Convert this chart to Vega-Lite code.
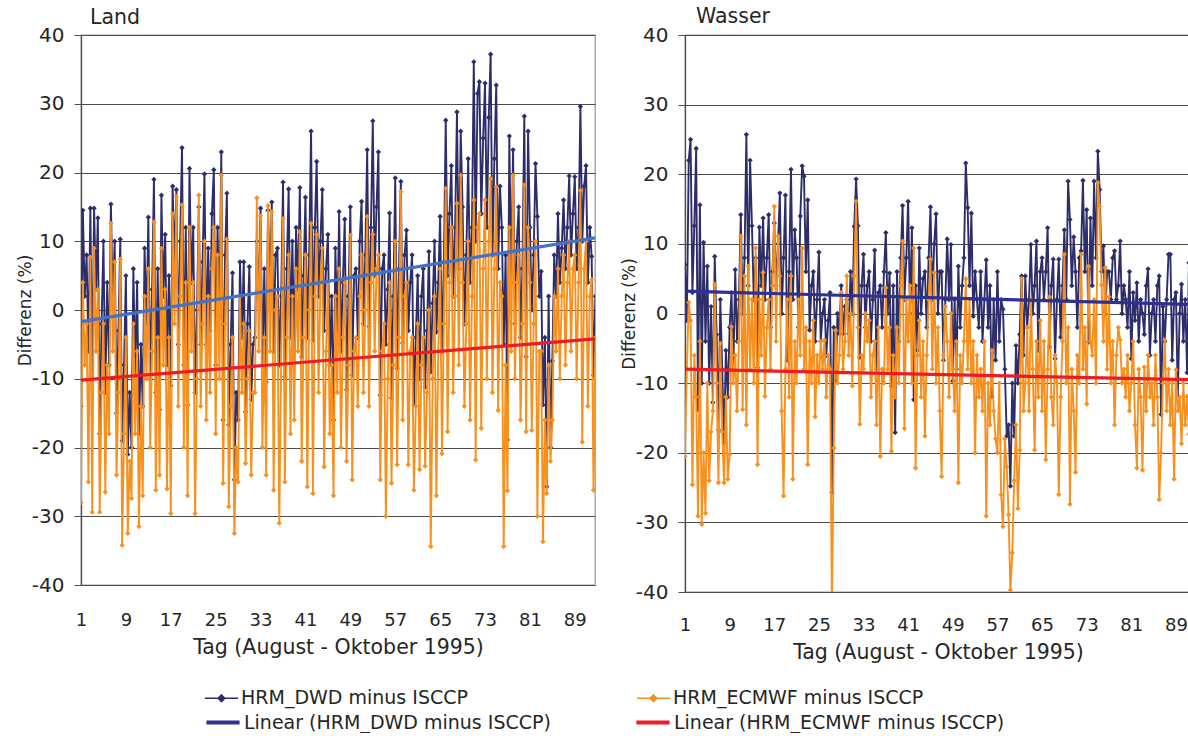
{
"$schema": "https://vega.github.io/schema/vega-lite/v6.json",
"background": "white",
"padding": {"left": 15, "top": 5, "right": 0, "bottom": 0},
"spacing": 23,
"config": {
  "font": "DejaVu Sans",
  "view": {"stroke": "#A39B9B", "strokeWidth": 1.3},
  "axis": {"labelColor": "#262626", "titleColor": "#262626", "titleFontWeight": "normal", "labelFont": "DejaVu Sans", "titleFont": "DejaVu Sans"},
  "axisX": {"ticks": false, "grid": false, "domain": false, "labelFontSize": 18, "labelPadding": 26, "titleFontSize": 20.5, "titlePadding": 8, "labelFlush": false},
  "axisY": {"grid": true, "gridColor": "#4D4D4D", "gridWidth": 1.1, "tickSize": 7, "tickColor": "#4D4D4D", "domainColor": "#4D4D4D", "domainWidth": 1.3, "labelFontSize": 20, "labelPadding": 10, "titleFontSize": 17, "titlePadding": -3},
  "title": {"font": "DejaVu Sans", "fontWeight": "normal", "fontSize": 20.5, "color": "#262626", "anchor": "start", "frame": "group"}
},
"resolve": {"scale": {"color": "shared", "stroke": "shared", "x": "independent", "y": "independent"}},
"datasets": {
"trend": [
{"p":"Land","s":"Linear (HRM_DWD minus ISCCP)","t":1,"v":-1.7},
{"p":"Land","s":"Linear (HRM_DWD minus ISCCP)","t":92.6,"v":10.5},
{"p":"Land","s":"Linear (HRM_ECMWF minus ISCCP)","t":1,"v":-10.2},
{"p":"Land","s":"Linear (HRM_ECMWF minus ISCCP)","t":92.6,"v":-4.2},
{"p":"Wasser","s":"Linear (HRM_DWD minus ISCCP)","t":1,"v":3.2},
{"p":"Wasser","s":"Linear (HRM_DWD minus ISCCP)","t":91.7,"v":1.3},
{"p":"Wasser","s":"Linear (HRM_ECMWF minus ISCCP)","t":1,"v":-8.0},
{"p":"Wasser","s":"Linear (HRM_ECMWF minus ISCCP)","t":91.7,"v":-9.5}
],
"series": [
{"t":1,"ld":-14,"le":-28,"wd":7,"we":-20.5},{"t":1.33,"ld":14.5,"le":4,"wd":-1,"we":-8},{"t":1.67,"ld":2,"le":-8,"wd":22,"we":1.6},
{"t":2,"ld":8,"le":-2,"wd":25,"we":-1},{"t":2.33,"ld":-6,"le":-25,"wd":3,"we":-24.6},{"t":2.67,"ld":14.8,"le":7.7,"wd":12.6,"we":-6},
{"t":3,"ld":-10,"le":-29.4,"wd":23.7,"we":-12},{"t":3.33,"ld":14.8,"le":9,"wd":-13.8,"we":-29.1},{"t":3.67,"ld":3,"le":-6,"wd":15.6,"we":-4},
{"t":4,"ld":13.4,"le":3,"wd":-10,"we":-30.3},{"t":4.33,"ld":-18,"le":-29.4,"wd":10.2,"we":-20},{"t":4.67,"ld":-2,"le":-12,"wd":-4,"we":-28.7},
{"t":5,"ld":10,"le":-2,"wd":6.8,"we":-10},{"t":5.33,"ld":-12,"le":-26.5,"wd":-10,"we":-24},{"t":5.67,"ld":4,"le":-8,"wd":1,"we":-17},
{"t":6,"ld":-8,"le":-18,"wd":-12.8,"we":-14},{"t":6.33,"ld":15.4,"le":12.6,"wd":8.2,"we":4.2},{"t":6.67,"ld":1,"le":-6,"wd":-3,"we":-10},
{"t":7,"ld":10,"le":7,"wd":-16.7,"we":-24.3},{"t":7.33,"ld":-15,"le":-24,"wd":2,"we":-4.3},{"t":7.67,"ld":-3,"le":-12,"wd":-8,"we":-17},
{"t":8,"ld":10.3,"le":7.4,"wd":-18.6,"we":-24.3},{"t":8.33,"ld":-19,"le":-34.2,"wd":-5.3,"we":-12},{"t":8.67,"ld":-8,"le":-18,"wd":-12,"we":-23.8},
{"t":9,"ld":5,"le":-4,"wd":-2,"we":-20.2},{"t":9.33,"ld":-21,"le":-32.5,"wd":3,"we":-1.9},{"t":9.67,"ld":-12,"le":-22,"wd":-8,"we":-10},
{"t":10,"ld":-20,"le":-27.4,"wd":6.3,"we":-6},{"t":10.33,"ld":6,"le":-2,"wd":-4,"we":-14},{"t":10.67,"ld":-9,"le":-18,"wd":2,"we":-4},
{"t":11,"ld":4,"le":-6,"wd":14.2,"we":11.1},{"t":11.33,"ld":-18,"le":-31.5,"wd":0,"we":-13.8},{"t":11.67,"ld":-5,"le":-14,"wd":8,"we":5.4},
{"t":12,"ld":-14,"le":-27,"wd":25.7,"we":-16},{"t":12.33,"ld":9,"le":2,"wd":4,"we":6.8},{"t":12.67,"ld":-2,"le":-10,"wd":22,"we":-8},
{"t":13,"ld":13.5,"le":6,"wd":12.6,"we":2},{"t":13.33,"ld":-10,"le":-20,"wd":2,"we":-10},{"t":13.67,"ld":3,"le":-6,"wd":8,"we":9.4},
{"t":14,"ld":19,"le":12.8,"wd":-7.8,"we":-21.7},{"t":14.33,"ld":-12,"le":-26.2,"wd":12.4,"we":2},{"t":14.67,"ld":6,"le":-4,"wd":4,"we":-6},
{"t":15,"ld":-14.5,"le":-24,"wd":13.7,"we":5.9},{"t":15.33,"ld":16.7,"le":9,"wd":2,"we":-11.9},{"t":15.67,"ld":2,"le":-8,"wd":8,"we":-2},
{"t":16,"ld":11,"le":3,"wd":14.2,"we":2},{"t":16.33,"ld":-8,"le":-26,"wd":-2,"we":-8},{"t":16.67,"ld":5,"le":-4,"wd":6,"we":4},
{"t":17,"ld":-11,"le":-29.6,"wd":13,"we":15.4},{"t":17.33,"ld":18,"le":14,"wd":4,"we":-4},{"t":17.67,"ld":7,"le":-2,"wd":10,"we":11.1},
{"t":18,"ld":17.5,"le":16.5,"wd":17.3,"we":5.4},{"t":18.33,"ld":-5,"le":-14,"wd":0,"we":-14},{"t":18.67,"ld":10,"le":2,"wd":8,"we":-26.2},
{"t":19,"ld":23.6,"le":15.3,"wd":17,"we":-8},{"t":19.33,"ld":-8,"le":-20,"wd":-6.7,"we":2},{"t":19.67,"ld":12,"le":4,"wd":6,"we":-12},
{"t":20,"ld":-13.8,"le":-27,"wd":20.7,"we":5.4},{"t":20.33,"ld":20.6,"le":12,"wd":2,"we":-23.8},{"t":20.67,"ld":4,"le":-6,"wd":12,"we":-4},
{"t":21,"ld":12,"le":4,"wd":8,"we":-10},{"t":21.33,"ld":-12,"le":-29.6,"wd":-2,"we":2},{"t":21.67,"ld":0,"le":-10,"wd":14,"we":-6},
{"t":22,"ld":15,"le":16.7,"wd":21.2,"we":9.4},{"t":22.33,"ld":-5,"le":-14,"wd":19.7,"we":-8},{"t":22.67,"ld":7,"le":-2,"wd":6,"we":-2},
{"t":23,"ld":19.8,"le":10,"wd":16.3,"we":-21.7},{"t":23.33,"ld":-5,"le":-16,"wd":-2.4,"we":-4},{"t":23.67,"ld":9,"le":2,"wd":4,"we":-10},
{"t":24,"ld":-3,"le":-12,"wd":6,"we":-1},{"t":24.33,"ld":14,"le":6,"wd":-4,"we":-14.8},{"t":24.67,"ld":20.4,"le":12,"wd":2,"we":-6},
{"t":25,"ld":-8,"le":-18,"wd":8.8,"we":-10},{"t":25.33,"ld":12,"le":8,"wd":-4,"we":-4},{"t":25.67,"ld":-1,"le":-10,"wd":0,"we":-8},
{"t":26,"ld":23,"le":19.6,"wd":2,"we":-3.8},{"t":26.33,"ld":-16,"le":-25.2,"wd":-6,"we":-12},{"t":26.67,"ld":8,"le":-2,"wd":-1,"we":-6},
{"t":27,"ld":17,"le":10.3,"wd":3,"we":-8},{"t":27.33,"ld":-16.7,"le":-28.6,"wd":-25.7,"we":-42},{"t":27.67,"ld":-5,"le":-14,"wd":-2,"we":-19.3},
{"t":28,"ld":5.4,"le":-4,"wd":-9.7,"we":-2.4},{"t":28.33,"ld":-24.7,"le":-32.5,"wd":0,"we":-10},{"t":28.67,"ld":-12,"le":-20,"wd":-2.9,"we":-6},
{"t":29,"ld":-16,"le":-25,"wd":4,"we":3},{"t":29.33,"ld":7,"le":2,"wd":-2.9,"we":-8},{"t":29.67,"ld":-4,"le":-12,"wd":1,"we":-4},
{"t":30,"ld":7,"le":-2,"wd":2,"we":5.4},{"t":30.33,"ld":-14.8,"le":-22.3,"wd":-2.9,"we":-6},{"t":30.67,"ld":-2,"le":-10,"wd":6,"we":0},
{"t":31,"ld":6.3,"le":-3,"wd":0,"we":-10.4},{"t":31.33,"ld":-13,"le":-24,"wd":12.5,"we":5.4},{"t":31.67,"ld":-5,"le":-12,"wd":19.3,"we":16.1},
{"t":32,"ld":-4,"le":-12,"wd":12.6,"we":-2},{"t":32.33,"ld":10,"le":16.3,"wd":-6.3,"we":-15.9},{"t":32.67,"ld":2,"le":-6,"wd":4,"we":-6},
{"t":33,"ld":14.8,"le":13.7,"wd":8.5,"we":-8},{"t":33.33,"ld":-8,"le":-20,"wd":-2,"we":0},{"t":33.67,"ld":6,"le":-4,"wd":4,"we":-4},
{"t":34,"ld":-10.5,"le":-24,"wd":6,"we":-1},{"t":34.33,"ld":14.5,"le":15.2,"wd":-4,"we":-12},{"t":34.67,"ld":3,"le":-6,"wd":2,"we":-6},
{"t":35,"ld":15.7,"le":14.3,"wd":9.1,"we":-4},{"t":35.33,"ld":-6,"le":-26.2,"wd":-8,"we":-16},{"t":35.67,"ld":8,"le":0,"wd":3,"we":-2},
{"t":36,"ld":9,"le":2,"wd":4,"we":-20.5},{"t":36.33,"ld":-8,"le":-31,"wd":-2,"we":-8},{"t":36.67,"ld":2,"le":-8,"wd":6,"we":-10},
{"t":37,"ld":18.6,"le":13.3,"wd":11.6,"we":3.7},{"t":37.33,"ld":-9.7,"le":-25,"wd":0,"we":-8},{"t":37.67,"ld":6,"le":-4,"wd":5.8,"we":-2},
{"t":38,"ld":17.6,"le":8,"wd":-10.4,"we":-19.8},{"t":38.33,"ld":-4,"le":-18,"wd":4,"we":-6},{"t":38.67,"ld":10,"le":2,"wd":-17.1,"we":-12},
{"t":39,"ld":-6,"le":-16,"wd":6,"we":-2},{"t":39.33,"ld":12,"le":6,"wd":-4,"we":-10},{"t":39.67,"ld":3,"le":-6,"wd":8,"we":4},
{"t":40,"ld":17.8,"le":11.4,"wd":15.5,"we":10.4},{"t":40.33,"ld":-6.8,"le":-22,"wd":2,"we":-16.5},{"t":40.67,"ld":5,"le":-4,"wd":8,"we":2},
{"t":41,"ld":16.4,"le":8,"wd":16.1,"we":-4},{"t":41.33,"ld":-4,"le":-25.7,"wd":0,"we":4},{"t":41.67,"ld":8,"le":0,"wd":12.3,"we":-10},
{"t":42,"ld":26,"le":12.6,"wd":-12.4,"we":9.4},{"t":42.33,"ld":-4.4,"le":-26.7,"wd":4,"we":-22.2},{"t":42.67,"ld":12,"le":2,"wd":-5.3,"we":-6},
{"t":43,"ld":21.6,"le":11,"wd":9.4,"we":-1},{"t":43.33,"ld":2,"le":-12,"wd":0,"we":-12},{"t":43.67,"ld":10,"le":4,"wd":5,"we":-4},
{"t":44,"ld":17.5,"le":9,"wd":6,"we":-17.6},{"t":44.33,"ld":-3,"le":-22.8,"wd":-2,"we":-6},{"t":44.67,"ld":6,"le":-6,"wd":8,"we":2},
{"t":45,"ld":11,"le":4,"wd":15.3,"we":7.8},{"t":45.33,"ld":-8,"le":-18,"wd":2,"we":-8},{"t":45.67,"ld":2,"le":-8,"wd":10,"we":5.9},
{"t":46,"ld":-16,"le":-27,"wd":14.3,"we":-10},{"t":46.33,"ld":9,"le":2,"wd":0,"we":-2},{"t":46.67,"ld":-3,"le":-12,"wd":6,"we":-14},
{"t":47,"ld":14.3,"le":6,"wd":6,"we":-23.4},{"t":47.33,"ld":-6,"le":-20,"wd":-6.7,"we":-6},{"t":47.67,"ld":4,"le":-4,"wd":2,"we":1},
{"t":48,"ld":13.2,"le":4,"wd":10.7,"we":-4},{"t":48.33,"ld":-11.6,"le":-22,"wd":2,"we":-12},{"t":48.67,"ld":2,"le":-8,"wd":9.9,"we":0},
{"t":49,"ld":15,"le":10.9,"wd":-9.7,"we":-8},{"t":49.33,"ld":-9.5,"le":-24.7,"wd":2,"we":-14},{"t":49.67,"ld":5,"le":-6,"wd":-8,"we":-4},
{"t":50,"ld":6,"le":-4,"wd":6.8,"we":-24.3},{"t":50.33,"ld":-4,"le":-14,"wd":-2,"we":-6},{"t":50.67,"ld":10,"le":2,"wd":4,"we":-10},
{"t":51,"ld":15.8,"le":8,"wd":8,"we":-4},{"t":51.33,"ld":-2,"le":-12,"wd":21.6,"we":5},{"t":51.67,"ld":8,"le":0,"wd":15.2,"we":-8},
{"t":52,"ld":23.3,"le":13.6,"wd":4,"we":2},{"t":52.33,"ld":-2.4,"le":-14,"wd":14.4,"we":-10},{"t":52.67,"ld":12,"le":4,"wd":-0.4,"we":-4},
{"t":53,"ld":27.5,"le":11,"wd":6,"we":-20},{"t":53.33,"ld":5,"le":-6,"wd":2,"we":-6},{"t":53.67,"ld":15,"le":6,"wd":-2,"we":-12},
{"t":54,"ld":23,"le":8,"wd":6,"we":-8},{"t":54.33,"ld":-12.4,"le":-24.7,"wd":-4,"we":-14},{"t":54.67,"ld":6,"le":-6,"wd":2,"we":-4},
{"t":55,"ld":8,"le":-2,"wd":7.7,"we":-29.1},{"t":55.33,"ld":-5,"le":-30,"wd":-2,"we":-10},{"t":55.67,"ld":3,"le":-10,"wd":4,"we":-16},
{"t":56,"ld":14.1,"le":4,"wd":-11.9,"we":-5.3},{"t":56.33,"ld":-12.8,"le":-25.2,"wd":2,"we":-14},{"t":56.67,"ld":2,"le":-8,"wd":-6.7,"we":-18},
{"t":57,"ld":19.2,"le":10,"wd":6,"we":-20},{"t":57.33,"ld":-8.5,"le":-22.5,"wd":-4,"we":-10},{"t":57.67,"ld":6,"le":-4,"wd":2,"we":-26},
{"t":58,"ld":18.7,"le":17.2,"wd":0.6,"we":-30.6},{"t":58.33,"ld":-4.8,"le":-16,"wd":-8,"we":-18},{"t":58.67,"ld":8,"le":2,"wd":-17.6,"we":-22},
{"t":59,"ld":11.6,"le":4,"wd":-16,"we":-28.9},{"t":59.33,"ld":-3,"le":-22.5,"wd":-24.8,"we":-39.7},{"t":59.67,"ld":4,"le":-6,"wd":-10,"we":-34.4},
{"t":60,"ld":8,"le":-4,"wd":-17.6,"we":-24},{"t":60.33,"ld":-13.8,"le":-26.2,"wd":-4.6,"we":-16},{"t":60.67,"ld":-4,"le":-14,"wd":-10,"we":-28},
{"t":61,"ld":5,"le":-2,"wd":-3,"we":-19.6},{"t":61.33,"ld":-10,"le":-23.2,"wd":5.4,"we":5},{"t":61.67,"ld":2,"le":-8,"wd":-6,"we":-14},
{"t":62,"ld":6,"le":-4,"wd":5.4,"we":-10},{"t":62.33,"ld":-11.2,"le":-22.7,"wd":-2,"we":-2},{"t":62.67,"ld":-3,"le":-12,"wd":2,"we":-14},
{"t":63,"ld":8.5,"le":0,"wd":9.9,"we":2},{"t":63.33,"ld":-9,"le":-34.4,"wd":0,"we":-8},{"t":63.67,"ld":1,"le":-10,"wd":4,"we":-19.6},
{"t":64,"ld":10,"le":2,"wd":10.4,"we":-4},{"t":64.33,"ld":-3.2,"le":-27,"wd":-5.3,"we":-12},{"t":64.67,"ld":4,"le":-6,"wd":6,"we":-1},
{"t":65,"ld":13.6,"le":6,"wd":8,"we":-14},{"t":65.33,"ld":-6,"le":-20.9,"wd":2,"we":-4},{"t":65.67,"ld":7,"le":-2,"wd":6,"we":-21},
{"t":66,"ld":27.6,"le":17.7,"wd":12.3,"we":-8},{"t":66.33,"ld":5,"le":-17.7,"wd":-4.8,"we":2.4},{"t":66.67,"ld":14,"le":4,"wd":4,"we":-12},
{"t":67,"ld":21,"le":12,"wd":7.8,"we":-16},{"t":67.33,"ld":2,"le":-12,"wd":-6.5,"we":-6},{"t":67.67,"ld":12,"le":2,"wd":2,"we":-10},
{"t":68,"ld":28.8,"le":15.5,"wd":7.8,"we":-26},{"t":68.33,"ld":6,"le":-8,"wd":-3.4,"we":-12},{"t":68.67,"ld":26,"le":19.6,"wd":4,"we":-4},
{"t":69,"ld":15,"le":4,"wd":12,"we":8.5},{"t":69.33,"ld":-2,"le":-14,"wd":2,"we":-10},{"t":69.67,"ld":8,"le":-2,"wd":19,"we":-2},
{"t":70,"ld":22,"le":10,"wd":13.5,"we":-27.4},{"t":70.33,"ld":4,"le":-16,"wd":4,"we":-8},{"t":70.67,"ld":12,"le":2,"wd":11,"we":-14},
{"t":71,"ld":36.1,"le":16,"wd":6,"we":-22.8},{"t":71.33,"ld":10,"le":-21.8,"wd":-2,"we":-6},{"t":71.67,"ld":31.5,"le":12,"wd":8,"we":-10},
{"t":72,"ld":33.2,"le":14,"wd":9,"we":8.5},{"t":72.33,"ld":14,"le":-17.2,"wd":19.1,"we":-8},{"t":72.67,"ld":25,"le":6,"wd":6,"we":-2},
{"t":73,"ld":33,"le":16,"wd":14.9,"we":-13},{"t":73.33,"ld":12,"le":-10,"wd":-4.1,"we":6.8},{"t":73.67,"ld":28,"le":10,"wd":13.7,"we":-4},
{"t":74,"ld":37.2,"le":19.1,"wd":4,"we":-6},{"t":74.33,"ld":8,"le":-12,"wd":19,"we":2},{"t":74.67,"ld":22,"le":6,"wd":8,"we":-10},
{"t":75,"ld":32.7,"le":17.9,"wd":23.3,"we":18.8},{"t":75.33,"ld":6,"le":-14.6,"wd":17.8,"we":15.4},{"t":75.67,"ld":18,"le":4,"wd":6,"we":4.1},
{"t":76,"ld":12,"le":2,"wd":9.7,"we":-4},{"t":76.33,"ld":-5,"le":-34.4,"wd":0,"we":6.6},{"t":76.67,"ld":8,"le":-8,"wd":6,"we":-8},
{"t":77,"ld":-18.9,"le":-26.3,"wd":6,"we":2.4},{"t":77.33,"ld":25.3,"le":12,"wd":2,"we":-10},{"t":77.67,"ld":4,"le":-6,"wd":8,"we":-4},
{"t":78,"ld":23.3,"le":19.6,"wd":9,"we":-16},{"t":78.33,"ld":-2,"le":-10,"wd":2,"we":-6},{"t":78.67,"ld":10,"le":4,"wd":4,"we":-2},
{"t":79,"ld":15,"le":8,"wd":10.4,"we":-3.8},{"t":79.33,"ld":-4,"le":-16,"wd":0,"we":-10},{"t":79.67,"ld":6,"le":-2,"wd":4,"we":-8},
{"t":80,"ld":28.2,"le":18.2,"wd":2,"we":-12},{"t":80.33,"ld":-6.8,"le":-17.7,"wd":-2,"we":-6},{"t":80.67,"ld":26,"le":12,"wd":6,"we":-14},
{"t":81,"ld":12,"le":4,"wd":-6.5,"we":-10},{"t":81.33,"ld":0,"le":-17.5,"wd":3,"we":-4},{"t":81.67,"ld":8,"le":-2,"wd":-1,"we":-16},
{"t":82,"ld":21.3,"le":10,"wd":4.4,"we":-22.2},{"t":82.33,"ld":13.6,"le":-30,"wd":-4,"we":-8},{"t":82.67,"ld":2,"le":-6,"wd":2,"we":-12},
{"t":83,"ld":5.6,"le":-6,"wd":0,"we":-22.5},{"t":83.33,"ld":-13.8,"le":-33.7,"wd":-3,"we":-7.7},{"t":83.67,"ld":-4,"le":-16,"wd":4,"we":-14},
{"t":84,"ld":-25.7,"le":-26.7,"wd":6.4,"we":-6},{"t":84.33,"ld":2,"le":-8,"wd":-6,"we":-12},{"t":84.67,"ld":-20,"le":-22,"wd":0,"we":-10},
{"t":85,"ld":-7.4,"le":-16,"wd":2,"we":-16},{"t":85.33,"ld":8,"le":2,"wd":-4,"we":-6},{"t":85.67,"ld":2,"le":-6,"wd":4,"we":-12},
{"t":86,"ld":14,"le":6,"wd":5.4,"we":-26.7},{"t":86.33,"ld":4,"le":-10,"wd":-14.5,"we":-20},{"t":86.67,"ld":9,"le":2,"wd":1,"we":-10},
{"t":87,"ld":16,"le":8,"wd":-4,"we":-3.8},{"t":87.33,"ld":6,"le":-8,"wd":2,"we":-14},{"t":87.67,"ld":12,"le":4,"wd":8.5,"we":-8},
{"t":88,"ld":19.5,"le":10,"wd":8.5,"we":-16},{"t":88.33,"ld":8,"le":-6,"wd":-6.7,"we":-10},{"t":88.67,"ld":14,"le":6,"wd":2,"we":-23.8},
{"t":89,"ld":19.4,"le":8,"wd":3,"we":-8.1},{"t":89.33,"ld":6,"le":-10,"wd":-11.9,"we":-14},{"t":89.67,"ld":12,"le":4,"wd":0,"we":-12},
{"t":90,"ld":29.6,"le":17.4,"wd":4.2,"we":-18.7},{"t":90.33,"ld":10,"le":-19.2,"wd":-4,"we":-10},{"t":90.67,"ld":18,"le":6,"wd":2,"we":-16},
{"t":91,"ld":21,"le":10,"wd":-8.5,"we":-11.9},{"t":91.33,"ld":4,"le":-14,"wd":7.3,"we":-17.3},{"t":91.67,"ld":12,"le":2,"wd":0,"we":-14},
{"t":92,"ld":7.8,"le":4.4,"wd":2,"we":-10},{"t":92.33,"ld":-9.5,"le":-26.2,"wd":-2,"we":-16},{"t":92.67,"ld":2,"le":-4,"wd":0,"we":-12}
]
},
"hconcat": [
{
  "width": 514, "height": 550,
  "title": {"text": "Land", "dx": 9, "offset": -3},
  "encoding": {
    "x": {"field": "t", "type": "quantitative", "scale": {"domain": [1, 92.6], "nice": false, "zero": false}, "title": "Tag (August - Oktober 1995)", "axis": {"values": [1, 9, 17, 25, 33, 41, 49, 57, 65, 73, 81, 89]}}
  },
  "layer": [
    {"data": {"name": "series"}, "mark": {"type": "line", "strokeWidth": 1.9, "clip": true, "point": {"shape": "diamond", "filled": true, "size": 28}},
     "encoding": {"y": {"field": "ld", "type": "quantitative", "scale": {"domain": [-40, 40], "nice": false}, "title": "Differenz (%)", "axis": {"values": [-40, -30, -20, -10, 0, 10, 20, 30, 40], "labelExpr": "replace(datum.label, '−', '-')"}},
       "color": {"datum": "HRM_DWD minus ISCCP", "type": "nominal", "title": null,
         "scale": {"domain": ["HRM_DWD minus ISCCP", "HRM_ECMWF minus ISCCP"], "range": ["#2D2D6A", "#F7901E"]},
         "legend": {"title": null, "orient": "none", "legendX": 123, "legendY": 645.5, "direction": "horizontal", "columns": 2, "columnPadding": 165, "labelFontSize": 19, "labelFont": "DejaVu Sans", "labelColor": "#262626", "labelLimit": 500, "symbolType": "M-1,0H1M0,-0.2L0.2,0L0,0.2L-0.2,0Z", "symbolSize": 1100, "symbolStrokeWidth": 1.5, "labelOffset": 2}}}},
    {"data": {"name": "series"}, "mark": {"type": "line", "strokeWidth": 1.9, "clip": true, "point": {"shape": "diamond", "filled": true, "size": 28}},
     "encoding": {"y": {"field": "le", "type": "quantitative", "scale": {"domain": [-40, 40], "nice": false}, "title": "Differenz (%)", "axis": {"values": [-40, -30, -20, -10, 0, 10, 20, 30, 40], "labelExpr": "replace(datum.label, '−', '-')"}},
       "color": {"datum": "HRM_ECMWF minus ISCCP", "type": "nominal", "title": null}}},
    {"data": {"name": "trend"}, "transform": [{"filter": "datum.p === 'Land' && datum.s === 'Linear (HRM_DWD minus ISCCP)'"}],
     "mark": {"type": "line", "strokeWidth": 3.2, "color": "#4472C4", "clip": true},
     "encoding": {"y": {"field": "v", "type": "quantitative", "scale": {"domain": [-40, 40], "nice": false}, "title": "Differenz (%)", "axis": {"values": [-40, -30, -20, -10, 0, 10, 20, 30, 40], "labelExpr": "replace(datum.label, '−', '-')"}}}},
    {"data": {"name": "trend"}, "transform": [{"filter": "datum.p === 'Land' && datum.s === 'Linear (HRM_ECMWF minus ISCCP)'"}],
     "mark": {"type": "line", "strokeWidth": 3.2, "clip": true},
     "encoding": {"y": {"field": "v", "type": "quantitative", "scale": {"domain": [-40, 40], "nice": false}, "title": "Differenz (%)", "axis": {"values": [-40, -30, -20, -10, 0, 10, 20, 30, 40], "labelExpr": "replace(datum.label, '−', '-')"}},
       "stroke": {"field": "s", "type": "nominal", "title": null,
         "scale": {"domain": ["Linear (HRM_DWD minus ISCCP)", "Linear (HRM_ECMWF minus ISCCP)"], "range": ["#2E3192", "#ED1C24"]},
         "legend": {"title": null, "orient": "none", "legendX": 123, "legendY": 668.5, "direction": "horizontal", "columns": 2, "columnPadding": 77, "labelFontSize": 19, "labelFont": "DejaVu Sans", "labelColor": "#262626", "labelLimit": 500, "symbolType": "stroke", "symbolSize": 1100, "symbolStrokeWidth": 4, "labelOffset": 2}}}}
  ]
},
{
  "width": 506, "height": 557,
  "title": {"text": "Wasser", "dx": 11, "offset": -2},
  "encoding": {
    "x": {"field": "t", "type": "quantitative", "scale": {"domain": [1, 91.7], "nice": false, "zero": false}, "title": "Tag (August - Oktober 1995)", "axis": {"values": [1, 9, 17, 25, 33, 41, 49, 57, 65, 73, 81, 89], "labelPadding": 24}}
  },
  "layer": [
    {"data": {"name": "series"}, "mark": {"type": "line", "strokeWidth": 1.9, "clip": true, "point": {"shape": "diamond", "filled": true, "size": 28}},
     "encoding": {"y": {"field": "wd", "type": "quantitative", "scale": {"domain": [-40, 40], "nice": false}, "title": "Differenz (%)", "axis": {"values": [-40, -30, -20, -10, 0, 10, 20, 30, 40], "labelExpr": "replace(datum.label, '−', '-')"}},
       "color": {"datum": "HRM_DWD minus ISCCP", "type": "nominal", "title": null}}},
    {"data": {"name": "series"}, "mark": {"type": "line", "strokeWidth": 1.9, "clip": true, "point": {"shape": "diamond", "filled": true, "size": 28}},
     "encoding": {"y": {"field": "we", "type": "quantitative", "scale": {"domain": [-40, 40], "nice": false}, "title": "Differenz (%)", "axis": {"values": [-40, -30, -20, -10, 0, 10, 20, 30, 40], "labelExpr": "replace(datum.label, '−', '-')"}},
       "color": {"datum": "HRM_ECMWF minus ISCCP", "type": "nominal", "title": null}}},
    {"data": {"name": "trend"}, "transform": [{"filter": "datum.p === 'Wasser'"}],
     "mark": {"type": "line", "strokeWidth": 3.2, "clip": true},
     "encoding": {"y": {"field": "v", "type": "quantitative", "scale": {"domain": [-40, 40], "nice": false}, "title": "Differenz (%)", "axis": {"values": [-40, -30, -20, -10, 0, 10, 20, 30, 40], "labelExpr": "replace(datum.label, '−', '-')"}},
       "stroke": {"field": "s", "type": "nominal", "title": null}}}
  ]
}
]
}
